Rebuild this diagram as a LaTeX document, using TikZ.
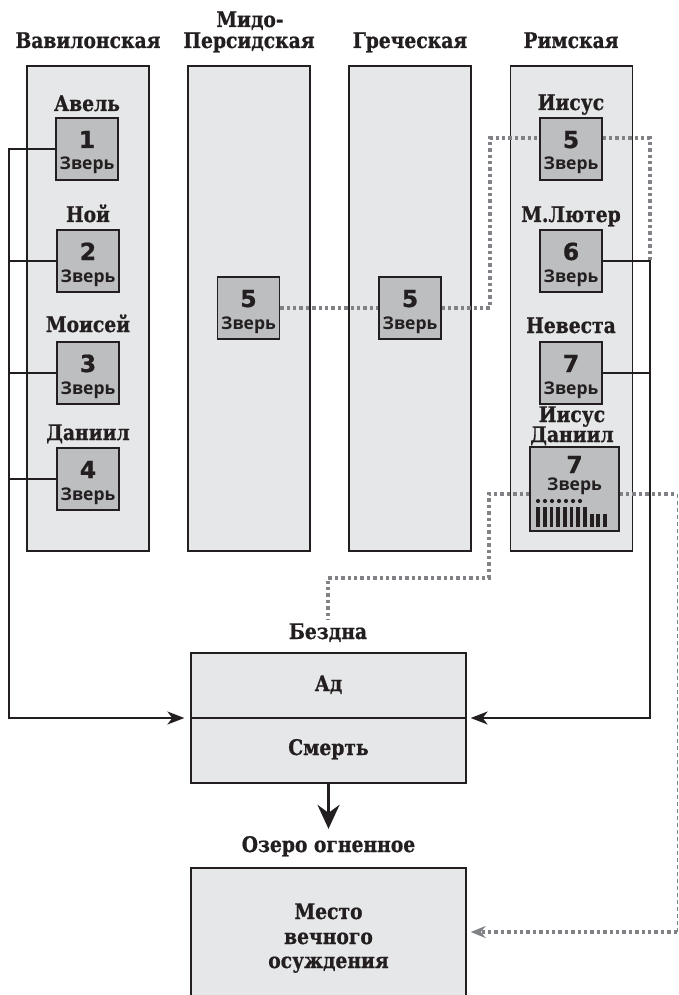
\documentclass[tikz,border=0pt]{standalone}
\usepackage{fontspec}
\setmainfont{DejaVu Serif}[FakeStretch=0.87,BoldFeatures={FakeBold=0.8}]
\newfontfamily\beastfont{Open Sans}
\newfontfamily\digitfont{DejaVu Sans}[BoldFeatures={FakeBold=0.8}]
\usetikzlibrary{arrows.meta}
\definecolor{colfill}{HTML}{E6E7E8}
\definecolor{beastfill}{HTML}{BCBEC0}
\definecolor{edge}{HTML}{231F20}
\definecolor{dotgray}{HTML}{808285}
\begin{document}
\begin{tikzpicture}[x=1pt,y=-1pt,
 column/.style={draw=edge,line width=1.3pt,fill=colfill,minimum width=122pt,minimum height=485pt,inner sep=0pt},
 beast/.style={draw=edge,line width=1.3pt,fill=beastfill,minimum width=62pt,minimum height=62pt,inner sep=0pt},
 bigbox/.style={draw=edge,line width=1.3pt,fill=colfill,minimum width=275pt,inner sep=0pt},
 head/.style={font=\fontsize{21.5}{22}\selectfont\bfseries,anchor=base,inner sep=0pt,text=edge},
 num/.style={font=\digitfont\fontsize{23.5}{24}\selectfont\bfseries,anchor=base,inner sep=0pt,text=edge},
 zv/.style={font=\beastfont\fontsize{17.5}{18}\selectfont\bfseries,anchor=base,inner sep=0pt,text=edge},
 conn/.style={draw=edge,line width=1.8pt},
 dotl/.style={draw=dotgray,line width=3.6pt,dash pattern=on 3.4pt off 3pt},
 thindash/.style={draw=dotgray,line width=1pt,dash pattern=on 4pt off 3pt},
 arr/.style={-{Stealth[length=17pt,width=13pt,inset=5pt]}},
 grayarr/.style={-{Stealth[length=15pt,width=12pt,inset=5pt,color=dotgray,fill=dotgray]}}
]
\useasboundingbox (0,0) rectangle (678,995);

% columns
\node[column] (colA) at (88,308.5) {};
\node[column] (colB) at (249,308.5) {};
\node[column] (colC) at (410,308.5) {};
\node[column] (colD) at (571.5,308.5) {};

% headers
\node[head] (hA) at (88,48) {Вавилонская};
\node[head] (hB1) at (250,27) {Мидо-};
\node[head] (hB2) at (249,48) {Персидская};
\node[head] (hC) at (410,48) {Греческая};
\node[head] (hD) at (571,48) {Римская};

% Babylon column
\node[head] (lA1) at (87,111) {Авель};
\node[beast] (b1) at (87,149) {};
\node[num] (n1) at (87,148) {1};
\node[zv] (z1) at (87,170) {Зверь};

\node[head] (lA2) at (88,222) {Ной};
\node[beast] (b2) at (88,261) {};
\node[num] (n2) at (88,260) {2};
\node[zv] (z2) at (88,282) {Зверь};

\node[head] (lA3) at (88,332) {Моисей};
\node[beast] (b3) at (88,373) {};
\node[num] (n3) at (88,372) {3};
\node[zv] (z3) at (88,394) {Зверь};

\node[head] (lA4) at (88,440) {Даниил};
\node[beast] (b4) at (88,479) {};
\node[num] (n4) at (88,478) {4};
\node[zv] (z4) at (88,500) {Зверь};

% Medo-Persian and Greek
\node[beast] (b5m) at (248.5,308) {};
\node[num] (n5m) at (248.5,307) {5};
\node[zv] (z5m) at (248.5,329) {Зверь};

\node[beast] (b5g) at (410,308) {};
\node[num] (n5g) at (410,307) {5};
\node[zv] (z5g) at (410,329) {Зверь};

% Roman column
\node[head] (lD1) at (571,110) {Иисус};
\node[beast] (b5r) at (571,149) {};
\node[num] (n5r) at (571,148) {5};
\node[zv] (z5r) at (571,170) {Зверь};

\node[head] (lD2) at (571,222) {М.Лютер};
\node[beast] (b6) at (571,261) {};
\node[num] (n6) at (571,260) {6};
\node[zv] (z6) at (571,282) {Зверь};

\node[head] (lD3) at (571,333) {Невеста};
\node[beast] (b7) at (571,373) {};
\node[num] (n7) at (571,372) {7};
\node[zv] (z7) at (571,394) {Зверь};

\node[head] (lD4) at (572,422) {Иисус};
\node[head] (lD5) at (572,442) {Даниил};
\node[beast,minimum width=89pt,minimum height=84pt] (b7big) at (574.5,489) {};
\node[num] (n7big) at (574.5,473) {7};
\node[zv] (z7big) at (574.5,490) {Зверь};
\foreach \i in {0,...,6} \fill[edge] (538+7*\i,501) circle (2.1pt);
\foreach \i in {0,...,7} \draw[edge,line width=3.8pt] (538+6.7*\i,506.5) -- (538+6.7*\i,527);
\foreach \i in {8,9,10} \draw[edge,line width=3.8pt] (538+6.7*\i,513.5) -- (538+6.7*\i,527);

% abyss
\node[head] (bz) at (328,639) {Бездна};
\node[bigbox,minimum height=130pt] (abyss) at (328.5,718) {};
\draw[edge,line width=1.3pt] (abyss.west) -- (abyss.east);
\node[head] (ad) at (328.5,691) {Ад};
\node[head] (sm) at (328.5,755) {Смерть};

% lake
\node[head] (lake) at (328.5,852) {Озеро огненное};
\node[bigbox,minimum height=140pt] (place) at (328.5,938) {};
\node[head] (p1) at (328.5,919) {Место};
\node[head] (p2) at (328.5,944) {вечного};
\node[head] (p3) at (328.5,968) {осуждения};

\draw[draw=edge,line width=3pt,-{Stealth[length=24pt,width=22pt,inset=8pt]},shorten >=7pt] (abyss.south) -- (lake.north);

% solid connectors
\coordinate (Lb) at (9,718);
\coordinate (Rb) at (650,718);
\draw[conn,arr,shorten >=6pt] (b1.west) -- (b1.west -| Lb) -- (Lb) -- (abyss.west);
\draw[conn] (b2.west) -- (b2.west -| Lb);
\draw[conn] (b3.west) -- (b3.west -| Lb);
\draw[conn] (b4.west) -- (b4.west -| Lb);
\draw[conn,arr,shorten >=4pt] (b6.east) -- (b6.east -| Rb) -- (Rb) -- (abyss.east);
\draw[conn] (b7.east) -- (b7.east -| Rb);

% dotted connectors
\coordinate (D1) at (490,138);
\coordinate (D2) at (650,138);
\draw[dotl] (b5m.east) -- (b5g.west);
\draw[dotl] (b5g.east) -- (b5g.east -| D1) -- (D1) -- (D1 -| b5r.west);
\draw[dotl] (D2 -| b5r.east) -- (D2) -- (b6.east -| D2);

\coordinate (E1) at (489,494);
\coordinate (E2) at (489,578);
\coordinate (E3) at (328,578);
\draw[dotl,shorten >=3pt] (E1 -| b7big.west) -- (E1) -- (E2) -- (E3) -- (bz.north);

\coordinate (F1) at (677,494);
\coordinate (F2) at (677,932);
\draw[dotl] (E1 -| b7big.east) -- (F1);
\draw[thindash] (F1) -- (F2);
\draw[dotl,grayarr,shorten >=4pt] (F2) -- (F2 -| place.east);
\end{tikzpicture}
\end{document}
